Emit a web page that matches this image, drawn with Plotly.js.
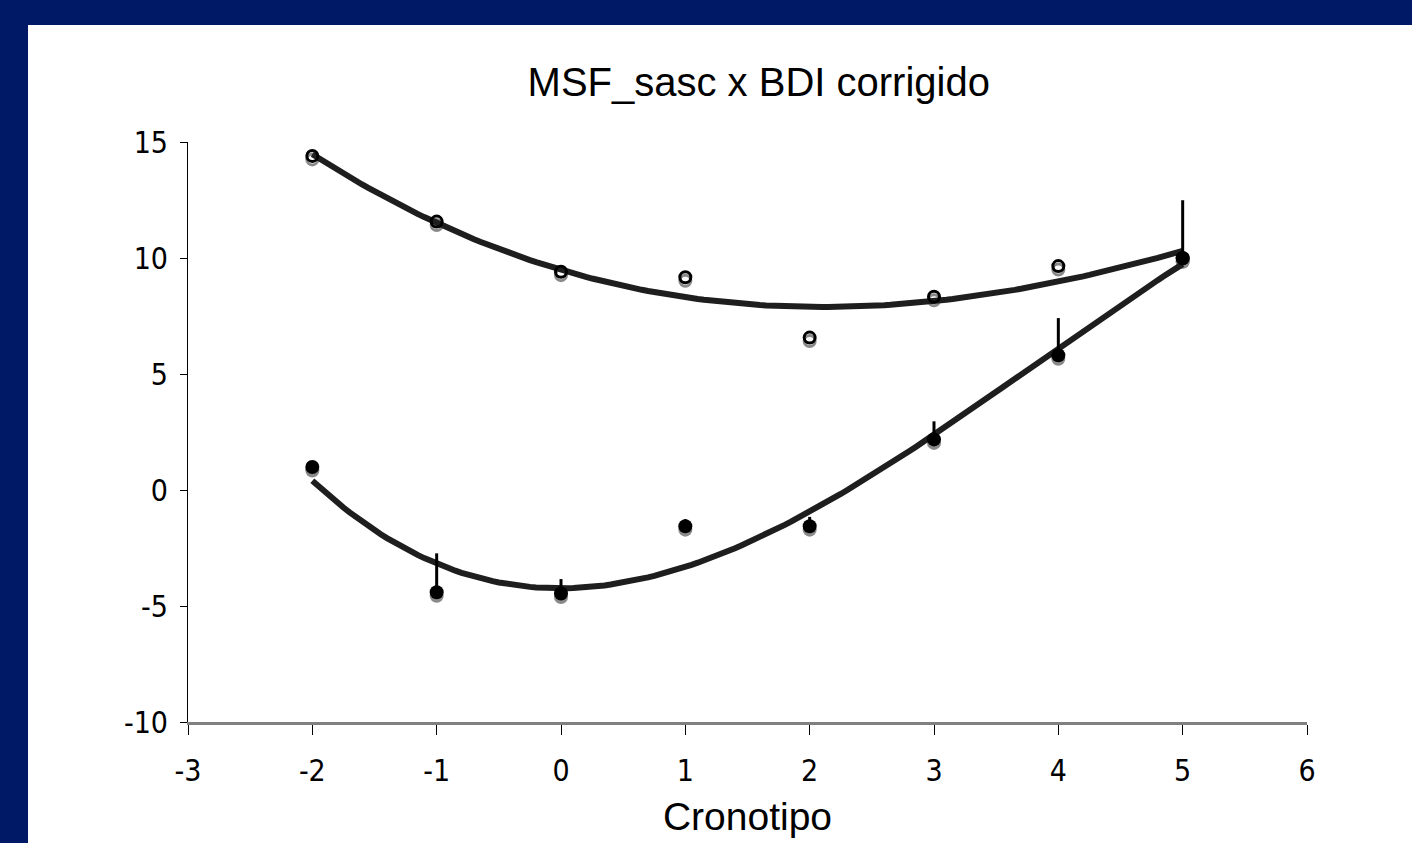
<!DOCTYPE html>
<html>
<head>
<meta charset="utf-8">
<script src="https://cdn.plot.ly/plotly-3.0.1.min.js"></script>
<style>
  html, body { margin: 0; padding: 0; background: #001966; width: 1412px; height: 843px; overflow: hidden; }
  #chart { position: absolute; left: 28px; top: 25px; width: 1384px; height: 818px; background: #ffffff; }
</style>
</head>
<body>
<div id="chart"></div>
<script>
// ---- data ----
const cronotipo = [-2, -1, 0, 1, 2, 3, 4, 5];
const bdiOpen = [14.4, 11.57, 9.41, 9.17, 6.57, 8.33, 9.65, 10.0];
const bdiFilled = [0.99, -4.41, -4.46, -1.56, -1.56, 2.18, 5.81, 9.99];
const bdiFilledErrUp = [0, 1.68, 0.62, 0.3, 0.4, 0.78, 1.6, 2.5];
const xTickVals = [-3, -2, -1, 0, 1, 2, 3, 4, 5, 6];
const yTickVals = [-10, -5, 0, 5, 10, 15];
const titleText = 'MSF_sasc x BDI corrigido';
const xTitleText = 'Cronotipo';
const trendOrder = 3;

// ---- polynomial least-squares trendline (like a spreadsheet polynomial trendline) ----
function polyFit(xs, ys, order) {
  const m = order + 1;
  const A = [];
  for (let r = 0; r < m; r++) {
    const row = [];
    for (let c = 0; c < m; c++) {
      let s = 0;
      for (let i = 0; i < xs.length; i++) s += Math.pow(xs[i], r + c);
      row.push(s);
    }
    let sy = 0;
    for (let i = 0; i < xs.length; i++) sy += Math.pow(xs[i], r) * ys[i];
    row.push(sy);
    A.push(row);
  }
  for (let c = 0; c < m; c++) {
    let p = c;
    for (let r = c + 1; r < m; r++) if (Math.abs(A[r][c]) > Math.abs(A[p][c])) p = r;
    [A[c], A[p]] = [A[p], A[c]];
    for (let r = 0; r < m; r++) {
      if (r === c) continue;
      const f = A[r][c] / A[c][c];
      for (let k = c; k <= m; k++) A[r][k] -= f * A[c][k];
    }
  }
  return A.map((row, i) => row[m] / row[i]);
}
function trend(xs, ys, order) {
  const c = polyFit(xs, ys, order);
  const x0 = Math.min(...xs), x1 = Math.max(...xs);
  const tx = [], ty = [];
  for (let i = 0; i <= 140; i++) {
    const x = x0 + (x1 - x0) * i / 140;
    let y = 0;
    for (let k = 0; k < c.length; k++) y += c[k] * Math.pow(x, k);
    tx.push(x); ty.push(y);
  }
  return { tx, ty };
}
const tOpen = trend(cronotipo, bdiOpen, trendOrder);
const tFilled = trend(cronotipo, bdiFilled, trendOrder);

const shadowShift = 0.15;
const gray = '#8a8a8a';

const traces = [
  // shadows (drawn on hidden, slightly shifted axis)
  { x: cronotipo, y: bdiOpen, type: 'scatter', mode: 'markers', yaxis: 'y', xaxis: 'x',
    marker: { symbol: 'circle-open', size: 11, color: gray, line: { width: 3, color: gray } }, hoverinfo: 'skip' },
  { x: cronotipo, y: bdiFilled, type: 'scatter', mode: 'markers', yaxis: 'y', xaxis: 'x',
    marker: { symbol: 'circle', size: 14, color: gray }, hoverinfo: 'skip' },
  // trendlines
  { x: tOpen.tx, y: tOpen.ty, type: 'scatter', mode: 'lines', yaxis: 'y2', xaxis: 'x',
    line: { color: '#1e1e1e', width: 6, shape: 'linear' } },
  { x: tFilled.tx, y: tFilled.ty, type: 'scatter', mode: 'lines', yaxis: 'y2', xaxis: 'x',
    line: { color: '#1e1e1e', width: 6, shape: 'linear' } },
  // series
  { x: cronotipo, y: bdiFilled, type: 'scatter', mode: 'markers', yaxis: 'y2', xaxis: 'x',
    marker: { symbol: 'circle', size: 14, color: '#000000' },
    error_y: { type: 'data', symmetric: false, array: bdiFilledErrUp, arrayminus: bdiFilledErrUp.map(() => 0),
               color: '#000000', thickness: 3, width: 0 } },
  { x: cronotipo, y: bdiOpen, type: 'scatter', mode: 'markers', yaxis: 'y2', xaxis: 'x',
    marker: { symbol: 'circle-open', size: 11, color: '#000000', line: { width: 3, color: '#000000' } } }
];

const tickFont = { family: '"DejaVu Sans Condensed", "DejaVu Sans", sans-serif', size: 30, color: '#000000' };

const layout = {
  width: 1384, height: 818,
  paper_bgcolor: '#ffffff', plot_bgcolor: '#ffffff',
  showlegend: false,
  margin: { l: 160, r: 105, t: 117, b: 121, pad: 0 },
  title: { text: titleText, x: 0.528, xanchor: 'center', y: 0.93, yanchor: 'middle',
           font: { family: '"Liberation Sans", Arial, sans-serif', size: 40, color: '#000000' } },
  xaxis: {
    range: [-3, 6], tickvals: xTickVals, ticktext: xTickVals.map(String),
    showgrid: false, zeroline: false, showline: true, linecolor: '#808080', linewidth: 2.5,
    ticks: 'outside', ticklen: 10, tickwidth: 1, tickcolor: '#000000',
    tickfont: tickFont, ticklabelstandoff: 10,
    title: { text: xTitleText, standoff: 16, font: { family: '"Liberation Sans", Arial, sans-serif', size: 39, color: '#000000' } },
    fixedrange: true
  },
  yaxis: {
    range: [-10 + shadowShift, 15 + shadowShift], visible: false, fixedrange: true
  },
  yaxis2: {
    range: [-10, 15], overlaying: 'y', side: 'left', anchor: 'x',
    tickvals: yTickVals, ticktext: yTickVals.map(String),
    showgrid: false, zeroline: false, showline: true, linecolor: '#000000', linewidth: 1,
    ticks: 'outside', ticklen: 7, tickwidth: 1, tickcolor: '#000000',
    tickfont: tickFont, ticklabelstandoff: 6, fixedrange: true
  }
};

Plotly.newPlot('chart', traces, layout, { displayModeBar: false, staticPlot: true });
</script>
</body>
</html>
